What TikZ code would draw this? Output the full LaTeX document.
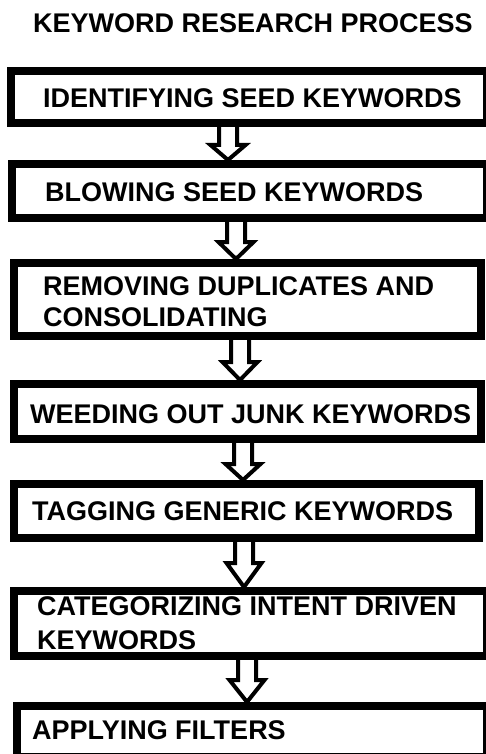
\documentclass[tikz,border=0pt]{standalone}
\usepackage{fontspec}
\setmainfont{Liberation Sans}
\usetikzlibrary{calc}
\pgfdeclarelayer{bg}
\pgfsetlayers{bg,main}
\tikzset{
  box/.style={draw=black, line width=8pt, fill=white, inner sep=0pt, rectangle},
  boxtext/.style={anchor=west, inner sep=0pt, align=left, text=black,
    font=\fontsize{27}{32}\selectfont\bfseries},
  titletext/.style={anchor=west, inner sep=0pt, text=black,
    font=\fontsize{27}{32}\selectfont\bfseries},
  blockarrow/.style={draw=black, fill=white, line width=4pt, line join=miter},
}
\newcommand{\blockarr}[4]{% from, to, center x, head base y
  \begin{pgfonlayer}{bg}
  \filldraw[blockarrow]
    ($({#3-9},0 |- #1.south)+(0,-6)$) -- ({#3-9},{#4+2}) -- ({#3-17.5},{#4+2})
    -- ({#3},0 |- #2.north)
    -- ({#3+17.5},{#4+2}) -- ({#3+9},{#4+2}) -- ($({#3+9},0 |- #1.south)+(0,-6)$);
  \end{pgfonlayer}
}
\begin{document}
\begin{tikzpicture}[x=1pt,y=-1pt]
\useasboundingbox (0,0) rectangle (486,754);

\node[titletext] (title) at (33,23) {KEYWORD RESEARCH PROCESS};

\node[box, minimum width=476pt, minimum height=52pt] (b1) at (249,97) {};
\node[box, minimum width=475pt, minimum height=54pt] (b2) at (249.5,191) {};
\node[box, minimum width=467pt, minimum height=73pt] (b3) at (247.5,299.5) {};
\node[box, minimum width=467pt, minimum height=55pt] (b4) at (247.5,411.5) {};
\node[box, minimum width=465pt, minimum height=54pt] (b5) at (246.5,511) {};
\node[box, minimum width=473pt, minimum height=65pt] (b6) at (250.5,623.5) {};
\node[box, minimum width=470pt, minimum height=51pt] (b7) at (252,731.5) {};

\node[boxtext] (t1) at (43,98) {IDENTIFYING SEED KEYWORDS};
\node[boxtext] (t2) at (45,192) {BLOWING SEED KEYWORDS};
\node[boxtext] (t3) at (43,302) {REMOVING DUPLICATES AND\\[-1pt]CONSOLIDATING};
\node[boxtext] (t4) at (30,414) {WEEDING OUT JUNK KEYWORDS};
\node[boxtext] (t5) at (32,511.5) {TAGGING GENERIC KEYWORDS};
\node[boxtext] (t6) at (37,623) {CATEGORIZING INTENT DRIVEN\\[2pt]KEYWORDS};
\node[boxtext] (t7) at (32,730) {APPLYING FILTERS};

\blockarr{b1}{b2}{228}{143}
\blockarr{b2}{b3}{236}{240}
\blockarr{b3}{b4}{240}{360}
\blockarr{b4}{b5}{243}{462}
\blockarr{b5}{b6}{244}{561}
\blockarr{b6}{b7}{247}{678}
\end{tikzpicture}
\end{document}
